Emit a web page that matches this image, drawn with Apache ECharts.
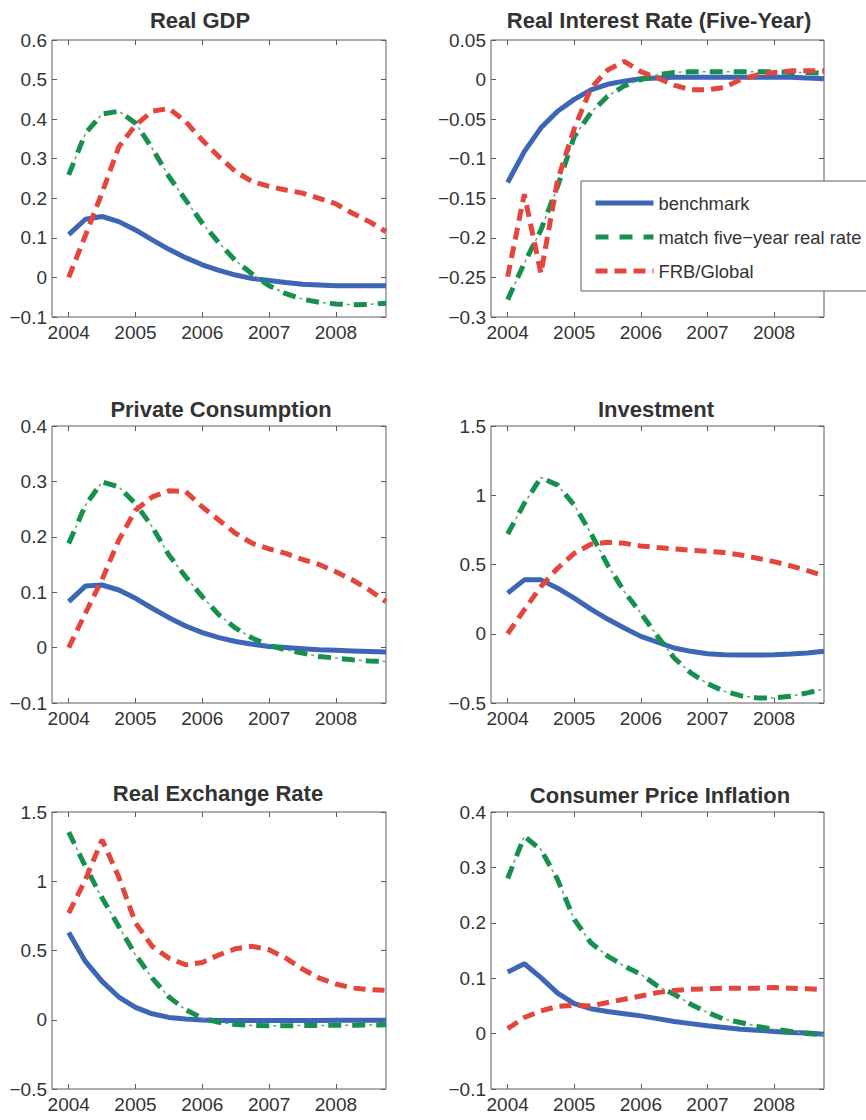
<!DOCTYPE html>
<html>
<head>
<meta charset="utf-8">
<title>Impulse responses</title>
<script src="https://cdn.jsdelivr.net/npm/echarts@6/dist/echarts.min.js"></script>
<style>
  html, body { margin: 0; padding: 0; background: #fff; }
  #chart { width: 866px; height: 1120px; }
</style>
</head>
<body>
<div id="chart"></div>
<script>
const quarters = [2004, 2004.25, 2004.5, 2004.75, 2005, 2005.25, 2005.5, 2005.75, 2006, 2006.25,
  2006.5, 2006.75, 2007, 2007.25, 2007.5, 2007.75, 2008, 2008.25, 2008.5, 2008.75]
const yearTicks = [2004, 2005, 2006, 2007, 2008]
const seriesNames = ['benchmark', 'match five\u2212year real rate', 'FRB/Global']

// Real GDP
const gdpBenchmark = [0.108, 0.147, 0.154, 0.141, 0.120, 0.095, 0.071, 0.050, 0.032, 0.018, 0.006, -0.003, -0.008, -0.013, -0.017, -0.019, -0.021, -0.021, -0.021, -0.021]
const gdpMatch = [0.259, 0.364, 0.413, 0.420, 0.390, 0.326, 0.255, 0.196, 0.137, 0.087, 0.042, 0.008, -0.021, -0.041, -0.055, -0.063, -0.067, -0.069, -0.068, -0.065]
const gdpFrb = [0.0, 0.106, 0.214, 0.330, 0.385, 0.420, 0.427, 0.394, 0.347, 0.305, 0.267, 0.242, 0.230, 0.221, 0.213, 0.200, 0.186, 0.162, 0.141, 0.116]

// Real interest rate (five-year)
const rateBenchmark = [-0.130, -0.091, -0.061, -0.040, -0.025, -0.013, -0.006, -0.002, 0.001, 0.002, 0.003, 0.003, 0.003, 0.003, 0.003, 0.003, 0.003, 0.003, 0.002, 0.001]
const rateMatch = [-0.278, -0.232, -0.190, -0.135, -0.072, -0.042, -0.021, -0.008, 0.000, 0.006, 0.009, 0.010, 0.010, 0.010, 0.010, 0.010, 0.010, 0.009, 0.009, 0.008]
const rateFrb = [-0.249, -0.145, -0.245, -0.127, -0.062, -0.011, 0.012, 0.023, 0.010, 0.002, -0.007, -0.013, -0.013, -0.010, 0.000, 0.006, 0.009, 0.011, 0.011, 0.011]

// Private consumption
const consBenchmark = [0.083, 0.111, 0.113, 0.104, 0.089, 0.071, 0.054, 0.039, 0.027, 0.018, 0.011, 0.006, 0.002, 0.000, -0.002, -0.004, -0.005, -0.006, -0.007, -0.008]
const consMatch = [0.188, 0.257, 0.299, 0.290, 0.260, 0.218, 0.167, 0.128, 0.092, 0.059, 0.035, 0.017, 0.004, -0.004, -0.010, -0.016, -0.019, -0.022, -0.024, -0.025]
const consFrb = [0.0, 0.062, 0.123, 0.194, 0.248, 0.272, 0.283, 0.282, 0.254, 0.230, 0.206, 0.188, 0.178, 0.170, 0.159, 0.150, 0.137, 0.122, 0.104, 0.083]

// Investment
const invBenchmark = [0.293, 0.389, 0.389, 0.329, 0.257, 0.178, 0.106, 0.041, -0.019, -0.060, -0.103, -0.127, -0.144, -0.151, -0.154, -0.154, -0.151, -0.146, -0.139, -0.127]
const invMatch = [0.720, 0.941, 1.128, 1.073, 0.929, 0.725, 0.497, 0.305, 0.149, -0.019, -0.175, -0.283, -0.360, -0.415, -0.447, -0.463, -0.463, -0.451, -0.427, -0.399]
const invFrb = [0.0, 0.173, 0.341, 0.473, 0.581, 0.646, 0.660, 0.653, 0.634, 0.622, 0.612, 0.603, 0.596, 0.586, 0.569, 0.545, 0.521, 0.490, 0.456, 0.418]

// Real exchange rate
const fxBenchmark = [0.630, 0.421, 0.277, 0.164, 0.089, 0.043, 0.017, 0.005, -0.002, -0.005, -0.006, -0.006, -0.006, -0.006, -0.005, -0.005, -0.004, -0.004, -0.003, -0.003]
const fxMatch = [1.355, 1.107, 0.879, 0.674, 0.469, 0.301, 0.164, 0.072, 0.012, -0.019, -0.034, -0.041, -0.043, -0.043, -0.042, -0.041, -0.040, -0.039, -0.038, -0.037]
const fxFrb = [0.770, 1.011, 1.300, 1.030, 0.700, 0.530, 0.445, 0.397, 0.414, 0.469, 0.513, 0.530, 0.505, 0.445, 0.366, 0.301, 0.258, 0.229, 0.217, 0.212]

// Consumer price inflation
const cpiBenchmark = [0.111, 0.126, 0.101, 0.073, 0.054, 0.045, 0.040, 0.036, 0.032, 0.027, 0.022, 0.018, 0.014, 0.011, 0.008, 0.006, 0.004, 0.002, 0.001, -0.001]
const cpiMatch = [0.280, 0.356, 0.332, 0.278, 0.206, 0.164, 0.140, 0.122, 0.107, 0.086, 0.071, 0.053, 0.038, 0.026, 0.020, 0.013, 0.008, 0.004, 0.000, -0.002]
const cpiFrb = [0.009, 0.029, 0.041, 0.049, 0.051, 0.050, 0.056, 0.062, 0.068, 0.074, 0.078, 0.080, 0.081, 0.082, 0.082, 0.082, 0.083, 0.082, 0.081, 0.079]

const panels = [
  { title: 'Real GDP', min: -0.1, max: 0.6, step: 0.1, lines: [gdpBenchmark, gdpMatch, gdpFrb] },
  { title: 'Real Interest Rate (Five-Year)', min: -0.3, max: 0.05, step: 0.05, lines: [rateBenchmark, rateMatch, rateFrb] },
  { title: 'Private Consumption', min: -0.1, max: 0.4, step: 0.1, lines: [consBenchmark, consMatch, consFrb] },
  { title: 'Investment', min: -0.5, max: 1.5, step: 0.5, lines: [invBenchmark, invMatch, invFrb] },
  { title: 'Real Exchange Rate', min: -0.5, max: 1.5, step: 0.5, lines: [fxBenchmark, fxMatch, fxFrb] },
  { title: 'Consumer Price Inflation', min: -0.1, max: 0.4, step: 0.1, lines: [cpiBenchmark, cpiMatch, cpiFrb] }
]

// plot boxes [left, top, width, height] and title centre [x, y]
const boxes = [
  [52, 40, 334, 277, 200, 20],
  [491, 40, 333, 277, 659, 20],
  [52, 426, 334, 277, 221, 409],
  [491, 426, 333, 277, 656, 409],
  [52, 812, 334, 277, 218, 793],
  [491, 812, 333, 277, 660, 795]
]

const FONT = '"Liberation Sans", Arial, sans-serif'
const AXIS_COLOR = '#5c5c5c'
const TEXT_COLOR = '#333'
const BLUE = '#3d66b6'
const GREEN = '#17904e'
const RED = '#e4453d'

const fmt = v => String(parseFloat(v.toFixed(2))).replace('-', '\u2212')

const grid = []
const xAxis = []
const yAxis = []
const series = []
const graphic = []

panels.forEach((p, i) => {
  const [l, t, w, h, tx, ty] = boxes[i]
  grid.push({ left: l, top: t, width: w, height: h, show: true, borderColor: AXIS_COLOR, borderWidth: 1 })

  const tick = { inside: true, length: 5, lineStyle: { color: AXIS_COLOR } }
  ;['bottom', 'top'].forEach(pos => {
    xAxis.push({
      gridIndex: i, type: 'value', position: pos, min: 2003.75, max: 2008.75,
      axisLine: { show: false, onZero: false }, splitLine: { show: false },
      axisTick: { ...tick, customValues: yearTicks },
      axisLabel: {
        show: pos === 'bottom', customValues: yearTicks, margin: 6, formatter: v => String(v),
        fontSize: 19, color: TEXT_COLOR, fontFamily: FONT
      }
    })
  })
  ;['left', 'right'].forEach(pos => {
    yAxis.push({
      gridIndex: i, type: 'value', position: pos, min: p.min, max: p.max, interval: p.step,
      axisLine: { show: false, onZero: false }, splitLine: { show: false },
      axisTick: tick,
      axisLabel: {
        show: pos === 'left', margin: 5, formatter: fmt,
        fontSize: 19, color: TEXT_COLOR, fontFamily: FONT
      }
    })
  })

  const pts = arr => quarters.map((q, k) => [q, arr[k]])
  const base = { type: 'line', xAxisIndex: 2 * i, yAxisIndex: 2 * i, symbol: 'none', silent: true, animation: false }

  series.push({ ...base, name: seriesNames[0], data: pts(p.lines[0]),
    lineStyle: { color: BLUE, width: 5 }, itemStyle: { color: BLUE } })
  series.push({ ...base, name: seriesNames[1], data: pts(p.lines[1]),
    lineStyle: { color: GREEN, width: 5, type: [13, 11], cap: 'butt' }, itemStyle: { color: GREEN } })
  series.push({ ...base, name: 'match dots', data: pts(p.lines[1]),
    lineStyle: { color: '#5aa87c', width: 1.5, type: [3, 21], dashOffset: 7 } })
  series.push({ ...base, name: seriesNames[2], data: pts(p.lines[2]),
    lineStyle: { color: RED, width: 5, type: [12, 7], cap: 'butt' }, itemStyle: { color: RED } })

  graphic.push({
    type: 'text', x: tx, y: ty, silent: true,
    style: {
      text: p.title, fill: TEXT_COLOR, textAlign: 'center', textVerticalAlign: 'middle',
      font: 'bold 22px ' + FONT
    }
  })
})

const chart = echarts.init(document.getElementById('chart'), null, { renderer: 'svg' })
chart.setOption({
  backgroundColor: '#fff',
  animation: false,
  grid,
  xAxis,
  yAxis,
  series,
  graphic,
  legend: {
    data: seriesNames,
    orient: 'vertical',
    left: 581,
    top: 181,
    itemWidth: 58,
    itemHeight: 20,
    itemGap: 16,
    padding: [13, 30, 11, 12],
    borderColor: AXIS_COLOR,
    borderWidth: 1,
    backgroundColor: '#fff',
    selectedMode: false,
    itemStyle: { opacity: 0, borderWidth: 0 },
    lineStyle: { width: 5 },
    textStyle: { fontSize: 18.4, color: TEXT_COLOR, fontFamily: FONT }
  }
})
</script>
</body>
</html>
